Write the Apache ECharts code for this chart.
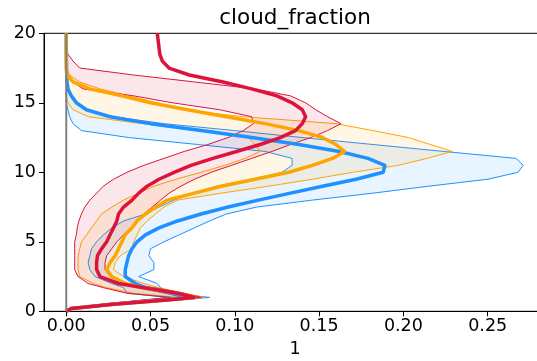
<!DOCTYPE html>
<html>
<head>
<meta charset="utf-8">
<script src="https://cdn.jsdelivr.net/npm/echarts@6/dist/echarts.min.js"></script>
<style>
  html, body { margin: 0; padding: 0; background: #fff; }
  #chart { width: 537px; height: 361px; }
</style>
</head>
<body>
<div id="chart"></div>
<script>
// Height levels (km) shared by every profile
const heights = [0, 0.2, 0.5, 0.8, 1.0, 1.3, 1.7, 2.0, 2.5, 3.0, 3.5, 4.0, 4.5, 5.0, 5.5, 6.0, 6.5, 7.0, 7.5, 8.0, 8.5, 9.0, 9.5, 10.0, 10.5, 11.0, 11.5, 12.0, 12.5, 13.0, 13.5, 14.0, 14.5, 15.0, 15.5, 16.0, 16.5, 17.0, 17.5, 18.0, 18.5, 19.0, 20.0];

// Blue profile: mean and envelope
const blueMean  = [0, 0.003, 0.027, 0.055, 0.072, 0.062, 0.047, 0.041, 0.035, 0.035, 0.036, 0.037, 0.039, 0.042, 0.047, 0.055, 0.066, 0.080, 0.096, 0.114, 0.133, 0.152, 0.172, 0.188, 0.189, 0.179, 0.162, 0.138, 0.110, 0.080, 0.050, 0.026, 0.012, 0.006, 0.003, 0.001, 0.0005, 0.0003, 0.0002, 0.0001, 0.0001, 0, 0];
const blueLower = [0, 0.002, 0.022, 0.046, 0.060, 0.036, 0.034, 0.027, 0.017, 0.014, 0.013, 0.014, 0.015, 0.018, 0.022, 0.027, 0.034, 0.047, 0.055, 0.064, 0.075, 0.089, 0.110, 0.128, 0.134, 0.134, 0.118, 0.078, 0.037, 0.009, 0.004, 0.002, 0.001, 0, 0, 0, 0, 0, 0, 0, 0, 0, 0];
const blueUpper = [0, 0.004, 0.032, 0.066, 0.085, 0.063, 0.056, 0.054, 0.043, 0.052, 0.052, 0.049, 0.050, 0.058, 0.067, 0.076, 0.085, 0.095, 0.113, 0.146, 0.182, 0.215, 0.250, 0.268, 0.271, 0.267, 0.224, 0.182, 0.140, 0.100, 0.058, 0.028, 0.013, 0.006, 0.003, 0.001, 0.0005, 0, 0, 0, 0, 0, 0];

// Orange profile: mean and envelope
const orangeMean  = [0, 0.003, 0.028, 0.058, 0.076, 0.066, 0.045, 0.035, 0.027, 0.024, 0.026, 0.029, 0.031, 0.033, 0.035, 0.039, 0.042, 0.047, 0.053, 0.060, 0.076, 0.092, 0.112, 0.132, 0.146, 0.158, 0.165, 0.160, 0.152, 0.138, 0.118, 0.095, 0.072, 0.050, 0.033, 0.014, 0.004, 0.0005, 0, 0, 0, 0, 0];
const orangeLower = [0, 0.002, 0.024, 0.050, 0.066, 0.040, 0.024, 0.016, 0.008, 0.007, 0.007, 0.007, 0.008, 0.009, 0.012, 0.015, 0.018, 0.021, 0.027, 0.034, 0.043, 0.052, 0.065, 0.080, 0.094, 0.106, 0.115, 0.112, 0.108, 0.086, 0.045, 0.013, 0.004, 0.001, 0, 0, 0, 0, 0, 0, 0, 0, 0];
const orangeUpper = [0, 0.004, 0.030, 0.063, 0.082, 0.070, 0.055, 0.046, 0.034, 0.028, 0.029, 0.032, 0.039, 0.040, 0.042, 0.044, 0.048, 0.053, 0.058, 0.066, 0.092, 0.120, 0.146, 0.170, 0.197, 0.214, 0.229, 0.216, 0.203, 0.182, 0.160, 0.105, 0.068, 0.054, 0.037, 0.020, 0.008, 0.002, 0, 0, 0, 0, 0];

// Red profile: mean and envelope
const redMean  = [0, 0.003, 0.028, 0.058, 0.076, 0.066, 0.046, 0.031, 0.020, 0.018, 0.018, 0.0185, 0.021, 0.024, 0.026, 0.028, 0.030, 0.031, 0.034, 0.039, 0.043, 0.048, 0.055, 0.064, 0.074, 0.087, 0.101, 0.115, 0.127, 0.136, 0.140, 0.142, 0.140, 0.134, 0.125, 0.110, 0.093, 0.073, 0.061, 0.057, 0.0555, 0.055, 0.054];
const redLower = [0, 0.001, 0.020, 0.044, 0.062, 0.036, 0.022, 0.013, 0.007, 0.005, 0.005, 0.005, 0.005, 0.005, 0.006, 0.0065, 0.0075, 0.009, 0.011, 0.014, 0.018, 0.022, 0.028, 0.036, 0.046, 0.058, 0.070, 0.084, 0.096, 0.105, 0.111, 0.110, 0.091, 0.063, 0.040, 0.010, 0.004, 0.001, 0, 0, 0, 0, 0];
const redUpper = [0, 0.004, 0.030, 0.062, 0.080, 0.070, 0.052, 0.036, 0.026, 0.023, 0.023, 0.024, 0.027, 0.030, 0.034, 0.038, 0.042, 0.046, 0.051, 0.056, 0.061, 0.068, 0.076, 0.086, 0.098, 0.110, 0.122, 0.133, 0.145, 0.155, 0.163, 0.155, 0.148, 0.142, 0.133, 0.112, 0.076, 0.040, 0.008, 0.004, 0.001, 0, 0];

// Tick values
const xTicks = [0, 0.05, 0.10, 0.15, 0.20, 0.25];
const yTicks = [0, 5, 10, 15, 20];

const FONT = 'DejaVu Sans';

function profile(values) {
  return values.map((v, i) => [v, heights[i]]);
}

// Shaded region between two vertical profiles, drawn through the axis scales
function band(lower, upper, fill, z) {
  return {
    type: 'custom',
    silent: true,
    z: z,
    data: [[lower[0], heights[0]]],
    encode: { x: 0, y: 1 },
    renderItem: function (params, api) {
      const pts = [];
      for (let i = 0; i < heights.length; i++) pts.push(api.coord([lower[i], heights[i]]));
      for (let i = heights.length - 1; i >= 0; i--) pts.push(api.coord([upper[i], heights[i]]));
      return { type: 'polygon', shape: { points: pts }, style: { fill: fill } };
    }
  };
}

function line(values, color, width, z) {
  return {
    type: 'line',
    data: profile(values),
    showSymbol: false,
    silent: true,
    z: z,
    lineStyle: { color: color, width: width, join: 'round' },
    itemStyle: { color: color }
  };
}

const BLUE = '#1e90ff', ORANGE = '#ffa500', RED = '#dc143c';

const series = [
  band(blueLower, blueUpper, 'rgba(30,144,255,0.1)', 2),
  line(blueLower, BLUE, 1, 3),
  line(blueUpper, BLUE, 1, 3),

  band(orangeLower, orangeUpper, 'rgba(255,165,0,0.1)', 4),
  line(orangeLower, ORANGE, 1, 5),
  line(orangeUpper, ORANGE, 1, 5),

  band(redLower, redUpper, 'rgba(220,20,60,0.1)', 6),
  line(redLower, RED, 1, 7),
  line(redUpper, RED, 1, 7),

  line(blueMean, BLUE, 3.5, 8),
  line(orangeMean, ORANGE, 3.5, 9),
  line(redMean, RED, 3.5, 10),

  // vertical reference line at zero, drawn over the profiles
  { type: 'line', data: [[0, 0], [0, 20]], showSymbol: false, silent: true, z: 11,
    lineStyle: { color: '#808080', width: 2 } }
];

const chart = echarts.init(document.getElementById('chart'), null, { renderer: 'canvas' });
chart.setOption({
  animation: false,
  backgroundColor: '#fff',
  title: {
    text: 'cloud_fraction',
    left: 290,
    top: 2,
    textAlign: 'center',
    textStyle: { fontFamily: FONT, fontSize: 21.5, fontWeight: 'normal', color: '#000' }
  },
  grid: {
    left: 44, top: 33.3, width: 502, height: 278,
    outerBoundsMode: 'none',
    show: true, borderColor: '#000', borderWidth: 1, backgroundColor: 'transparent',
    containLabel: false
  },
  xAxis: {
    type: 'value',
    min: -0.0132,
    max: 0.2846,
    name: '1',
    nameLocation: 'middle',
    nameGap: 28,
    nameTextStyle: { fontFamily: FONT, fontSize: 17.5, color: '#000' },
    axisLine: { show: true, lineStyle: { color: '#000', width: 1 } },
    axisTick: { show: true, length: 5, customValues: xTicks, lineStyle: { color: '#000', width: 1 } },
    axisLabel: {
      customValues: xTicks,
      formatter: v => v.toFixed(2),
      fontFamily: FONT, fontSize: 17.5, color: '#000', margin: 6
    },
    splitLine: { show: false }
  },
  yAxis: {
    type: 'value',
    min: 0,
    max: 20,
    interval: 5,
    axisLine: { show: true, onZero: false, lineStyle: { color: '#000', width: 1 } },
    axisTick: { show: true, length: 5, customValues: yTicks, lineStyle: { color: '#000', width: 1 } },
    axisLabel: {
      customValues: yTicks,
      fontFamily: FONT, fontSize: 17.5, color: '#000', margin: 8
    },
    splitLine: { show: false }
  },
  series: series
});
</script>
</body>
</html>
